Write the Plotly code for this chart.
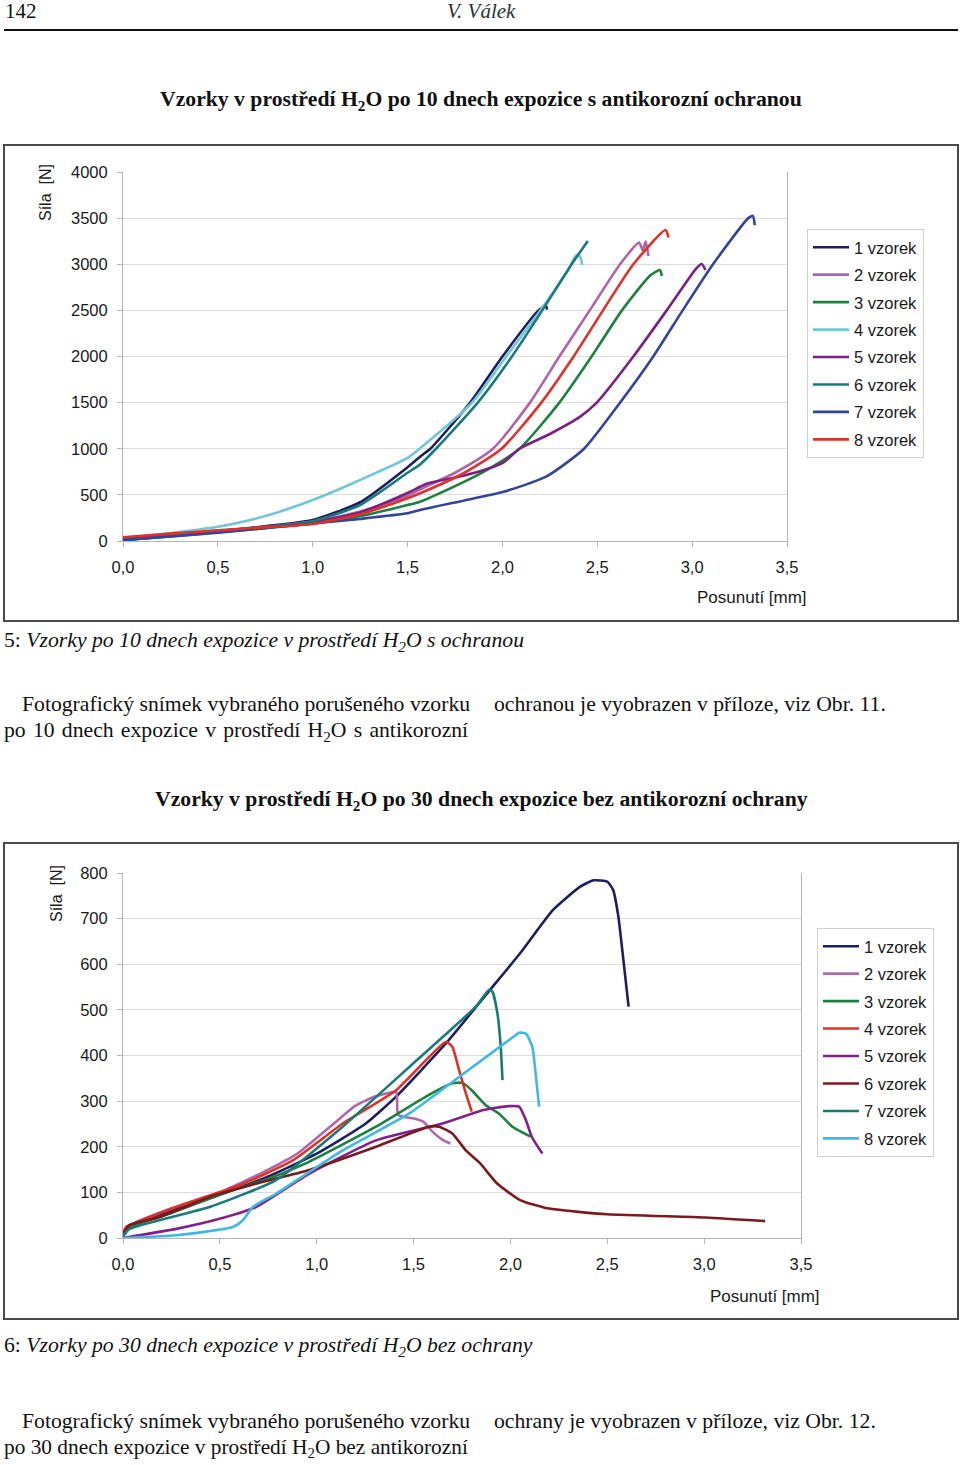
import plotly.graph_objects as go

W, H = 960, 1465

# ---------------- data: chart 1 (10 days, with protection) ----------------
c1_names = ["1 vzorek", "2 vzorek", "3 vzorek", "4 vzorek", "5 vzorek", "6 vzorek", "7 vzorek", "8 vzorek"]
c1_colors = ["#1c1f5e", "#b064a8", "#1e8040", "#72c6d8", "#7a2080", "#1a7a78", "#34449a", "#e0302a"]

c1_x1 = [0, 0.25, 0.5, 0.75, 1.0, 1.25, 1.5, 1.566, 1.62, 1.83, 2.0, 2.19, 2.23, 2.235]
c1_y1 = [10, 55, 105, 160, 228, 420, 800, 914, 1000, 1500, 2000, 2500, 2545, 2510]
c1_x2 = [0, 0.25, 0.5, 0.75, 1.0, 1.25, 1.5, 1.566, 1.75, 1.95, 2.145, 2.30, 2.46, 2.62, 2.72, 2.74, 2.755, 2.77]
c1_y2 = [20, 60, 105, 150, 210, 320, 490, 560, 740, 1000, 1500, 2000, 2500, 3000, 3234, 3150, 3245, 3090]
c1_x3 = [0, 0.25, 0.5, 0.75, 1.0, 1.25, 1.5, 1.566, 1.65, 1.9, 2.09, 2.30, 2.47, 2.63, 2.78, 2.83, 2.84]
c1_y3 = [15, 55, 95, 140, 190, 270, 390, 426, 500, 750, 1000, 1500, 2000, 2500, 2880, 2938, 2873]
c1_x4 = [0, 0.25, 0.5, 0.75, 1.0, 1.25, 1.5, 1.566, 1.84, 2.02, 2.2, 2.35, 2.39, 2.41, 2.42]
c1_y4 = [25, 85, 155, 270, 444, 661, 900, 1005, 1500, 2000, 2500, 2950, 3100, 3080, 2990]
c1_x5 = [0, 0.25, 0.5, 0.75, 1.0, 1.25, 1.5, 1.6, 1.8, 2.0, 2.09, 2.25, 2.41, 2.497, 2.69, 2.866, 3.02, 3.05, 3.07]
c1_y5 = [20, 65, 110, 150, 205, 310, 520, 620, 710, 845, 1000, 1160, 1348, 1500, 2000, 2500, 2950, 3003, 2938]
c1_x6 = [0, 0.25, 0.5, 0.75, 1.0, 1.25, 1.5, 1.566, 1.65, 1.87, 2.05, 2.21, 2.365, 2.45]
c1_y6 = [10, 50, 100, 150, 215, 390, 740, 830, 1000, 1500, 2000, 2500, 3000, 3252]
c1_x7 = [0, 0.25, 0.5, 0.75, 1.0, 1.25, 1.5, 1.566, 1.8, 2.0, 2.23, 2.43, 2.62, 2.795, 2.95, 3.11, 3.296, 3.32, 3.33]
c1_y7 = [10, 50, 90, 140, 190, 240, 300, 336, 440, 530, 697, 1000, 1500, 2000, 2500, 3000, 3500, 3523, 3425]
c1_x8 = [0, 0.25, 0.5, 0.75, 1.0, 1.25, 1.5, 1.566, 1.8, 1.995, 2.205, 2.375, 2.53, 2.69, 2.86, 2.875]
c1_y8 = [40, 80, 115, 150, 185, 290, 463, 517, 740, 1000, 1500, 2000, 2500, 3000, 3371, 3290]

# ---------------- data: chart 2 (30 days, without protection) ----------------
c2_names = ["1 vzorek", "2 vzorek", "3 vzorek", "4 vzorek", "5 vzorek", "6 vzorek", "7 vzorek", "8 vzorek"]
c2_colors = ["#1c1f5e", "#b068a8", "#1e8040", "#e0302a", "#80208a", "#7a1a1e", "#1a7a78", "#40b8e0"]

c2_x1 = [0, 0.02, 0.25, 0.5, 0.75, 1.0, 1.25, 1.41, 1.67, 1.895, 2.05, 2.22, 2.36, 2.43, 2.5, 2.53, 2.557, 2.583, 2.61]
c2_y1 = [0, 25, 60, 95, 135, 185, 250, 310, 428, 544, 624, 719, 770, 784, 781, 763, 705, 610, 507]
c2_x2 = [0, 0.05, 0.25, 0.5, 0.75, 0.9, 1.1, 1.2, 1.3, 1.41, 1.415, 1.42, 1.5, 1.55, 1.6, 1.65, 1.69]
c2_y2 = [5, 30, 65, 100, 150, 185, 255, 290, 310, 320, 300, 270, 262, 255, 232, 215, 207]
c2_x3 = [0, 0.02, 0.25, 0.5, 0.75, 0.96, 1.306, 1.564, 1.70, 1.753, 1.80, 1.873, 1.94, 2.01, 2.105]
c2_y3 = [0, 20, 55, 95, 130, 167, 244, 310, 339, 340, 324, 291, 273, 244, 222]
c2_x4 = [0, 0.017, 0.275, 0.62, 0.876, 1.134, 1.41, 1.667, 1.70, 1.735, 1.77, 1.80]
c2_y4 = [10, 24, 68, 119, 170, 251, 324, 430, 419, 368, 317, 277]
c2_x5 = [0, 0.275, 0.498, 0.687, 0.962, 1.306, 1.65, 1.856, 1.99, 2.045, 2.08, 2.11, 2.165]
c2_y5 = [0, 20, 42, 68, 141, 214, 251, 280, 289, 288, 258, 222, 185]
c2_x6 = [0, 0.034, 0.19, 0.447, 0.687, 0.962, 1.306, 1.58, 1.632, 1.70, 1.77, 1.843, 1.93, 2.05, 2.19, 2.50, 3.01, 3.315]
c2_y6 = [10, 28, 46, 90, 119, 149, 200, 244, 244, 229, 192, 164, 120, 83, 65, 52, 45, 37]
c2_x7 = [0, 0.034, 0.447, 0.79, 1.134, 1.478, 1.821, 1.89, 1.907, 1.933, 1.95, 1.959]
c2_y7 = [4, 20, 68, 127, 244, 375, 507, 544, 540, 492, 419, 346]
c2_x8 = [0, 0.275, 0.567, 0.619, 0.67, 0.79, 1.134, 1.478, 1.735, 1.993, 2.045, 2.08, 2.113, 2.13, 2.148]
c2_y8 = [0, 6, 24, 39, 68, 97, 192, 273, 353, 434, 450, 448, 419, 361, 288]

x_tickvals = [0, 0.5, 1.0, 1.5, 2.0, 2.5, 3.0, 3.5]
x_ticktext = ["0,0", "0,5", "1,0", "1,5", "2,0", "2,5", "3,0", "3,5"]
c1_ytickvals = [0, 500, 1000, 1500, 2000, 2500, 3000, 3500, 4000]
c2_ytickvals = [0, 100, 200, 300, 400, 500, 600, 700, 800]

c1_xs = [c1_x1, c1_x2, c1_x3, c1_x4, c1_x5, c1_x6, c1_x7, c1_x8]
c1_ys = [c1_y1, c1_y2, c1_y3, c1_y4, c1_y5, c1_y6, c1_y7, c1_y8]
c2_xs = [c2_x1, c2_x2, c2_x3, c2_x4, c2_x5, c2_x6, c2_x7, c2_x8]
c2_ys = [c2_y1, c2_y2, c2_y3, c2_y4, c2_y5, c2_y6, c2_y7, c2_y8]


def px(x):
    return x / W


def py(y):
    return 1 - y / H


SANS = "Liberation Sans, Arial, sans-serif"
SERIF = "Liberation Serif, Times New Roman, serif"
HS = " \u200a"  # slightly widened word gap for a justified line
TS = 21.7       # body text size

fig = go.Figure()

for i in range(8):
    fig.add_trace(go.Scatter(
        x=c1_xs[i], y=c1_ys[i], name=c1_names[i], mode="lines",
        line=dict(color=c1_colors[i], width=2.6, shape="spline", smoothing=0.6),
        xaxis="x", yaxis="y", legend="legend", legendgroup="a%d" % i,
        hoverinfo="skip"))

for i in range(8):
    fig.add_trace(go.Scatter(
        x=c2_xs[i], y=c2_ys[i], name=c2_names[i], mode="lines",
        line=dict(color=c2_colors[i], width=2.6, shape="spline", smoothing=0.5),
        xaxis="x2", yaxis="y2", legend="legend2", legendgroup="b%d" % i,
        hoverinfo="skip"))

axis_common = dict(
    showline=True, linecolor="#b4b4b4", linewidth=1,
    gridcolor="#dcdcdc", gridwidth=1,
    ticks="outside", ticklen=5, tickcolor="#b4b4b4",
    tickfont=dict(family=SANS, size=16.5, color="#1a1a1a"),
    zeroline=False, fixedrange=True, automargin=False,
)

legend_common = dict(
    xanchor="left", yanchor="top",
    bordercolor="#d0d0d0", borderwidth=1, bgcolor="white",
    font=dict(family=SANS, size=16.5, color="#1a1a1a"),
    tracegroupgap=3, itemwidth=36, itemclick=False, itemdoubleclick=False,
)

fig.update_layout(
    width=W, height=H,
    autosize=False,
    margin=dict(l=0, r=0, t=0, b=0, pad=0, autoexpand=False),
    paper_bgcolor="white", plot_bgcolor="white",
    showlegend=True,
    xaxis=dict(domain=[px(123), px(787)], range=[0, 3.5], anchor="y",
               tickvals=x_tickvals, ticktext=x_ticktext, showgrid=False,
               ticklabelstandoff=6, **axis_common),
    yaxis=dict(domain=[py(541), py(172)], range=[0, 4000], anchor="x",
               tickvals=c1_ytickvals, showgrid=True, mirror=True,
               ticklabelstandoff=6, **axis_common),
    xaxis2=dict(domain=[px(123), px(801)], range=[0, 3.5], anchor="y2",
                tickvals=x_tickvals, ticktext=x_ticktext, showgrid=False,
                ticklabelstandoff=6, **axis_common),
    yaxis2=dict(domain=[py(1238), py(873)], range=[0, 800], anchor="x2",
                tickvals=c2_ytickvals, showgrid=True, mirror=True,
                ticklabelstandoff=6, **axis_common),
    legend=dict(x=px(807), y=py(229), **legend_common),
    legend2=dict(x=px(817), y=py(928), **legend_common),
)

shapes = [
    dict(type="line", xref="paper", yref="paper", x0=px(4), x1=px(958), y0=py(30), y1=py(30),
         line=dict(color="#111", width=2)),
    dict(type="rect", xref="paper", yref="paper", x0=px(4), x1=px(958), y0=py(621), y1=py(145),
         line=dict(color="#4a4a4a", width=2)),
    dict(type="rect", xref="paper", yref="paper", x0=px(4), x1=px(958), y0=py(1319), y1=py(843),
         line=dict(color="#4a4a4a", width=2)),
]
fig.update_layout(shapes=shapes)


def ann(text, x, y, size=TS, family=SERIF, xanchor="left", yanchor="middle", angle=0, color="#111"):
    return dict(text=text, x=px(x), y=py(y), xref="paper", yref="paper",
                xanchor=xanchor, yanchor=yanchor, showarrow=False, textangle=angle,
                font=dict(family=family, size=size, color=color))


annotations = [
    ann("142", 3, 11, size=21),
    ann("<i>V. Válek</i>", 481, 11, size=21, xanchor="center", color="#333"),
    ann("<b>Vzorky v prostředí H<sub>2</sub>O po 10 dnech expozice s antikorozní ochranou</b>", 481, 101, xanchor="center"),
    ann("Síla  [N]", 45, 193, size=16, family=SANS, xanchor="center", angle=-90, color="#1a1a1a"),
    ann("Posunutí [mm]", 809, 598, size=17, family=SANS, xanchor="right", color="#1a1a1a"),
    ann("5: <i>Vzorky po 10 dnech expozice v prostředí H<sub>2</sub>O s ochranou</i>", 2, 641),
    ann("Fotografický snímek vybraného porušeného vzorku", 20, 704),
    ann(HS.join("po 10 dnech expozice v prostředí H<sub>2</sub>O s antikorozní".split(" ")), 2, 731),
    ann("ochranou je vyobrazen v příloze, viz Obr. 11.", 492, 704),
    ann("<b>Vzorky v prostředí H<sub>2</sub>O po 30 dnech expozice bez antikorozní ochrany</b>", 481, 800, xanchor="center"),
    ann("Síla  [N]", 56, 894, size=16, family=SANS, xanchor="center", angle=-90, color="#1a1a1a"),
    ann("Posunutí [mm]", 822, 1296, size=17, family=SANS, xanchor="right", color="#1a1a1a"),
    ann("6: <i>Vzorky po 30 dnech expozice v prostředí H<sub>2</sub>O bez ochrany</i>", 2, 1346),
    ann("Fotografický snímek vybraného porušeného vzorku", 20, 1421),
    ann("po 30 dnech expozice v prostředí H<sub>2</sub>O bez antikorozní", 2, 1448, size=21.35),
    ann("ochrany je vyobrazen v příloze, viz Obr. 12.", 492, 1421),
]
fig.update_layout(annotations=annotations)

fig.write_html(
    "out.html",
    config={"responsive": False, "displayModeBar": False},
    post_script="document.body.style.margin='0';document.body.style.padding='0';"
                "document.documentElement.style.overflow='hidden';",
)
